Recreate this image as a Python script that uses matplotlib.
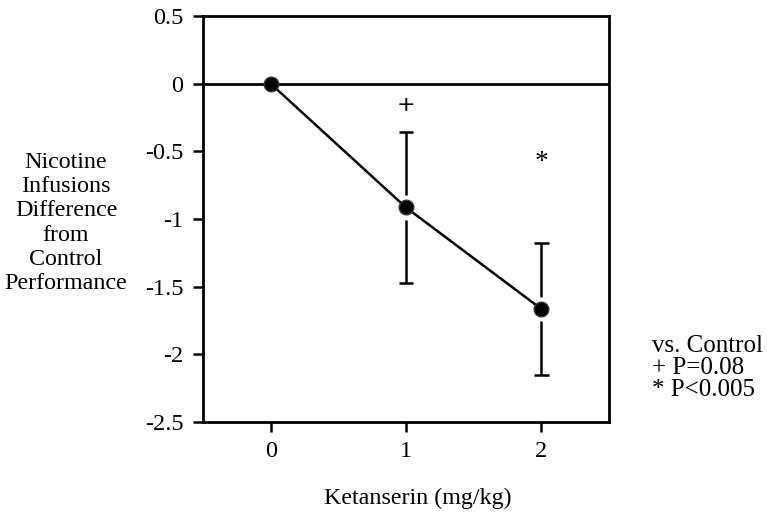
import matplotlib.pyplot as plt

# data
doses = [0, 1, 2]
mean_diff = [0.0, -0.915, -1.665]
sem = [0.0, 0.555, 0.49]
sig_marks = ["", "+", "*"]
sig_y = [None, -0.16, -0.58]

plt.rcParams['font.family'] = ['Liberation Serif', 'DejaVu Serif']

fig = plt.figure(figsize=(7.67, 5.14), dpi=100)
ax = fig.add_axes([203 / 767, 1 - 422 / 514, 406 / 767, 406 / 514])

ax.axhline(0, color='black', lw=2, zorder=1)

# error bars, with a small gap around the marker
gap = 0.09
for x, y, e in zip(doses, mean_diff, sem):
    if e == 0:
        continue
    ax.vlines(x, y + gap, y + e, color='black', lw=1.8)
    ax.vlines(x, y - e, y - gap, color='black', lw=1.8)
    ax.hlines([y + e, y - e], x - 0.055, x + 0.055, color='black', lw=1.8)

ax.plot(doses, mean_diff, color='black', lw=1.8, marker='o', ms=10.5,
        mfc='black', mec='#333333', zorder=3)

for x, s, y in zip(doses, sig_marks, sig_y):
    if s:
        ax.text(x, y, s, ha='center', va='center',
                fontsize=16 if s == '+' else 20,
                family='DejaVu Sans' if s == '+' else None)

ax.set_xlim(-0.5, 2.5)
ax.set_ylim(-2.5, 0.5)
ax.set_xticks(doses)
ax.set_yticks([0.5, 0, -0.5, -1, -1.5, -2, -2.5])
ax.set_yticklabels(['0.5', '0', '-0.5', '-1', '-1.5', '-2', '-2.5'])
ax.tick_params(labelsize=17.5, width=1.8, length=7, pad=7)
for sp in ax.spines.values():
    sp.set_linewidth(2)

fig.text(66 / 767, 1 - 223 / 514,
         "Nicotine\nInfusions\nDifference\nfrom\nControl\nPerformance",
         ha='center', va='center', fontsize=17.3, linespacing=1.2)
fig.text(418 / 767, 1 - 498 / 514, "Ketanserin (mg/kg)",
         ha='center', va='center', fontsize=17.3)
fig.text(652 / 767, 1 - 368 / 514, "vs. Control\n+ P=0.08\n* P<0.005",
         ha='left', va='center', fontsize=18, linespacing=1.0)

fig.savefig("out.png", dpi=100)
